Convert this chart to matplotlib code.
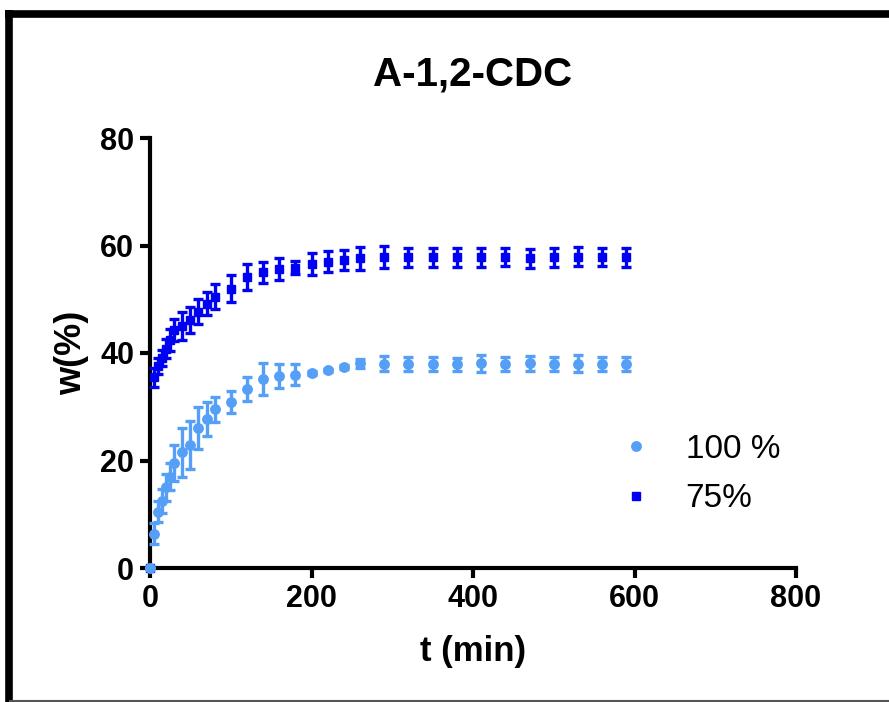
import matplotlib
matplotlib.use("Agg")
import matplotlib.pyplot as plt
from matplotlib.lines import Line2D
import numpy as np

plt.rcParams['font.family'] = ['Liberation Sans', 'DejaVu Sans']

# ---- data ----
t_min = [0, 5, 10, 15, 20, 25, 30, 40, 50, 60, 70, 80, 100, 120, 140, 160,
         180, 200, 220, 240, 260, 290, 320, 350, 380, 410, 440, 470, 500,
         530, 560, 590]

w_100 = [0.0, 6.4, 10.5, 12.5, 15.0, 17.0, 19.5, 21.5, 22.9, 26.0, 27.7,
         29.5, 30.9, 33.3, 35.2, 35.7, 36.0, 36.3, 36.8, 37.4, 38.1, 38.0,
         38.0, 37.9, 37.9, 38.1, 37.9, 38.1, 38.0, 38.0, 38.0, 38.0]
err_100 = [0.0, 1.9, 1.9, 2.2, 2.5, 2.5, 3.3, 4.5, 4.4, 3.9, 3.1, 2.3,
           2.1, 2.2, 3.0, 2.3, 2.0, 0.3, 0.3, 0.3, 0.8, 1.4, 1.3, 1.3, 1.2,
           1.6, 1.3, 1.4, 1.3, 1.6, 1.3, 1.3]

w_75 = [0.0, 35.5, 37.6, 39.0, 40.8, 42.4, 44.3, 45.0, 46.1, 47.7, 49.2,
        50.5, 52.0, 54.2, 55.0, 55.6, 55.9, 56.6, 57.0, 57.3, 57.6, 57.9,
        57.8, 57.8, 57.8, 57.8, 57.9, 57.6, 57.8, 57.9, 57.8, 57.8]
err_75 = [0.0, 1.8, 1.5, 1.5, 1.8, 2.0, 2.1, 2.6, 2.4, 2.3, 2.1, 2.4, 2.5,
          2.4, 2.0, 2.0, 1.2, 2.0, 2.0, 1.9, 2.2, 2.0, 1.8, 1.8, 1.8, 1.8,
          1.7, 1.8, 1.8, 1.8, 1.7, 1.8]

labels = ['100 %', '75%']
title = 'A-1,2-CDC'
x_label = 't (min)'
y_label = 'w(%)'
x_ticks = [0, 200, 400, 600, 800]
y_ticks = [0, 20, 40, 60, 80]

c_light = '#55A0F6'
c_dark = '#0000F2'

W, H = 889, 702
fig = plt.figure(figsize=(W / 100, H / 100), dpi=100)
fig.patch.set_facecolor('white')

ax = fig.add_axes([150 / W, (H - 568) / H, 646 / W, 430 / H])
ax.set_xlim(0, 800)
ax.set_ylim(0, 80)

ax.errorbar(t_min, w_75, yerr=err_75, fmt='s', color=c_dark, ms=6.2,
            elinewidth=2.4, capsize=3.8, capthick=2.4, clip_on=False, zorder=3)
ax.errorbar(t_min, w_100, yerr=err_100, fmt='o', color=c_light, ms=6.8,
            elinewidth=2.4, capsize=3.8, capthick=2.4, clip_on=False, zorder=4)

for s in ['top', 'right']:
    ax.spines[s].set_visible(False)
for s in ['left', 'bottom']:
    ax.spines[s].set_linewidth(3.0)
ax.set_xticks(x_ticks)
ax.set_yticks(y_ticks)
ax.tick_params(direction='out', length=7.5, width=3.0, labelsize=22, pad=4)
for lab in ax.get_xticklabels() + ax.get_yticklabels():
    lab.set_fontweight('bold')

ax.set_title(title, fontsize=29, fontweight='bold', pad=38)
ax.set_xlabel(x_label, fontsize=25, fontweight='bold', labelpad=15)
ax.set_ylabel(y_label, fontsize=26, fontweight='bold', labelpad=8)

handles = [Line2D([], [], ls='none', marker='o', color=c_light, ms=6.8),
           Line2D([], [], ls='none', marker='s', color=c_dark, ms=6.2)]
ax.legend(handles, labels, loc='upper left', frameon=False, fontsize=24,
          bbox_to_anchor=(619 / W, (H - 434) / H), bbox_transform=fig.transFigure,
          handlelength=1.0, handletextpad=1.0, labelspacing=0.55, borderpad=0,
          borderaxespad=0)

# figure frame
fig.add_artist(Line2D([5 / W, 1], [(H - 13.5) / H] * 2, color='black', lw=5.5,
                      transform=fig.transFigure, solid_capstyle='butt'))
fig.add_artist(Line2D([9 / W] * 2, [0, (H - 10) / H], color='black', lw=5.5,
                      transform=fig.transFigure, solid_capstyle='butt'))
fig.add_artist(Line2D([9 / W, 1], [1.5 / H] * 2, color='#555555', lw=1.5,
                      transform=fig.transFigure, solid_capstyle='butt'))

fig.savefig('out.png', dpi=100)
